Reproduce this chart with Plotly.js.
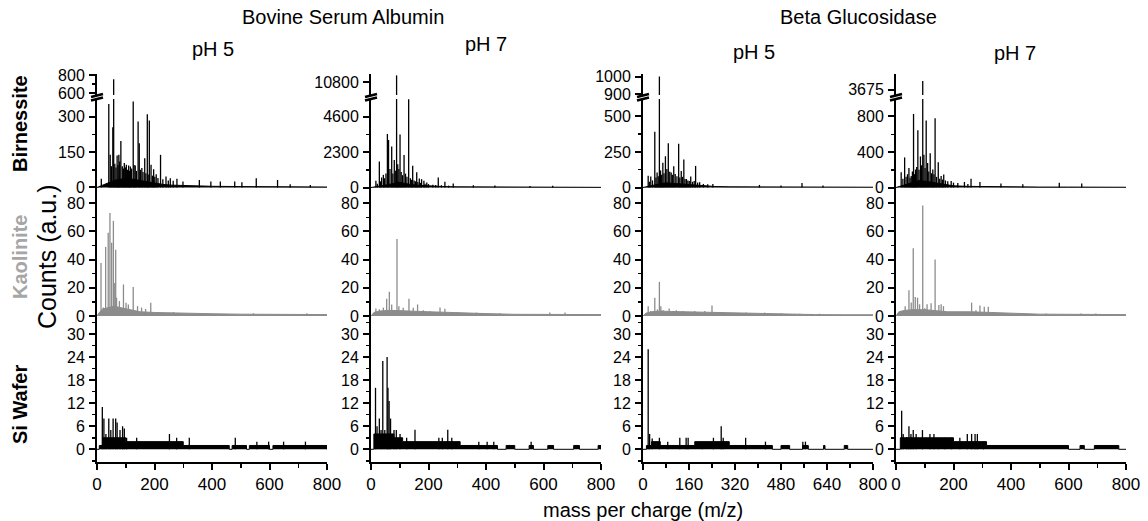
<!DOCTYPE html>
<html><head><meta charset="utf-8">
<script src="https://cdn.plot.ly/plotly-3.0.1.min.js"></script>
<style>html,body{margin:0;padding:0;background:#fff;} #chart{width:1148px;height:521px;}</style>
</head><body><div id="chart"></div>
<script>
// ---------------- data ----------------
const proteins = ['Bovine Serum Albumin', 'Beta Glucosidase'];
const phLabels = ['pH 5', 'pH 7', 'pH 5', 'pH 7'];
const rowLabels = ['Birnessite', 'Kaolinite', 'Si Wafer'];
const yTitle = 'Counts (a.u.)';
const xTitle = 'mass per charge (m/z)';

const mzTicks = [0, 200, 400, 600, 800];
const mzTicksBG5 = [0, 160, 320, 480, 640, 800];
const birLowerTicks = [[0, 150, 300], [0, 2300, 4600], [0, 250, 500], [0, 400, 800]];
const birUpperTicks = [[600, 800], [10800], [900, 1000], [3675]];
const kaoTicks = [0, 20, 40, 60, 80];
const siTicks = [0, 6, 12, 18, 24, 30];

// Birnessite, BSA pH 5
const bsa5BirMz  = [15, 41, 46, 50, 55, 58, 62, 66, 70, 73, 76, 79, 83, 88, 92, 95, 99, 102, 106, 110, 113, 116, 120, 126, 129, 133, 137, 143, 147, 151, 156, 160, 166, 170, 175, 178, 182, 188, 193, 197, 201, 206, 212, 221, 229, 240, 248, 255, 265, 278, 299, 356, 396, 429, 479, 504, 554, 628, 672, 742];
const bsa5BirInt = [37, 353, 138, 90, 255, 752, 100, 85, 135, 95, 138, 110, 197, 90, 80, 103, 85, 96, 75, 93, 70, 89, 80, 363, 95, 93, 70, 279, 187, 75, 82, 65, 124, 60, 310, 55, 283, 96, 50, 77, 45, 56, 40, 138, 35, 46, 30, 39, 28, 37, 25, 32, 25, 25, 25, 22, 39, 32, 14, 11];
const bsa5BirFloorMz = [0, 10, 20, 30, 40, 60, 80, 100, 120, 140, 160, 180, 200, 230, 260, 300, 350, 400, 500, 600, 700, 800];
const bsa5BirFloor   = [0, 5, 12, 18, 22, 30, 35, 38, 36, 32, 27, 22, 18, 13, 10, 8, 6, 5, 4, 3, 3, 2];

// Birnessite, BSA pH 7
const bsa7BirMz  = [17, 22, 29, 33, 37, 43, 47, 52, 57, 61, 66, 72, 76, 81, 86, 89, 93, 97, 101, 105, 110, 115, 120, 125, 131, 137, 141, 145, 150, 155, 159, 163, 168, 172, 176, 184, 188, 194, 200, 215, 225, 234, 245, 257, 270, 286, 356, 431, 553, 632];
const bsa7BirInt = [430, 250, 1690, 400, 650, 820, 600, 900, 3470, 3080, 1200, 2650, 900, 1780, 1085, 11300, 1500, 1200, 3430, 1000, 800, 2100, 900, 700, 5720, 600, 500, 1410, 450, 400, 980, 350, 590, 300, 540, 430, 250, 325, 220, 180, 160, 650, 150, 370, 120, 260, 150, 130, 90, 110];
const bsa7BirFloorMz = [0, 10, 20, 40, 60, 80, 90, 100, 120, 140, 160, 180, 200, 250, 300, 400, 500, 600, 700, 800];
const bsa7BirFloor   = [0, 25, 70, 130, 190, 270, 350, 330, 250, 190, 150, 120, 90, 60, 45, 30, 20, 15, 12, 10];

// Birnessite, BG pH 5
const bg5BirMz  = [18, 22, 27, 33, 41, 45, 49, 53, 57, 61, 65, 69, 73, 78, 83, 88, 93, 98, 102, 107, 112, 118, 124, 128, 133, 137, 142, 146, 151, 156, 161, 166, 172, 178, 183, 190, 197, 210, 225, 243, 405, 480, 553, 626];
const bg5BirInt = [83, 40, 78, 50, 393, 70, 105, 80, 1000, 120, 90, 175, 100, 220, 130, 312, 110, 105, 90, 150, 95, 80, 308, 70, 117, 75, 197, 60, 60, 50, 45, 78, 40, 45, 152, 35, 37, 25, 22, 25, 18, 14, 32, 14];
const bg5BirFloorMz = [0, 10, 20, 40, 60, 80, 100, 120, 140, 160, 180, 200, 250, 300, 400, 500, 600, 700, 800];
const bg5BirFloor   = [0, 3, 9, 18, 27, 33, 30, 27, 23, 18, 13, 10, 7, 5, 4, 3, 3, 2, 2];

// Birnessite, BG pH 7
const bg7BirMz  = [18, 24, 30, 35, 40, 45, 49, 53, 57, 61, 64, 68, 72, 76, 80, 85, 89, 93, 97, 101, 105, 110, 114, 119, 124, 128, 132, 136, 141, 147, 152, 157, 162, 166, 172, 180, 192, 200, 215, 238, 250, 261, 292, 365, 441, 568, 646];
const bg7BirInt = [173, 100, 339, 120, 150, 221, 110, 129, 180, 829, 150, 203, 230, 645, 200, 350, 250, 3795, 368, 220, 755, 276, 180, 387, 160, 203, 150, 780, 120, 284, 100, 129, 90, 147, 80, 70, 74, 55, 50, 63, 40, 99, 63, 44, 37, 55, 44];
const bg7BirFloorMz = [0, 10, 20, 40, 60, 80, 100, 120, 140, 160, 180, 200, 250, 300, 400, 500, 600, 700, 800];
const bg7BirFloor   = [0, 9, 24, 42, 60, 78, 72, 60, 48, 36, 27, 19, 13, 10, 7, 5, 5, 4, 3];

// Kaolinite, BSA pH 5
const bsa5KaoMz  = [14, 22, 30, 39, 45, 51, 57, 60, 65, 68, 78, 92, 101, 109, 126, 141, 155, 169, 187, 208, 266, 358, 544, 730];
const bsa5KaoInt = [37.6, 6, 49, 59, 73, 52, 67.5, 23.5, 47, 13, 10.6, 22.4, 9.4, 8.2, 20.5, 7, 6, 5, 9.4, 2.8, 2.8, 1.9, 1.9, 1.9];
const bsa5KaoFloorMz = [0, 10, 20, 40, 60, 80, 100, 120, 150, 200, 250, 300, 400, 500, 600, 700, 800];
const bsa5KaoFloor   = [0, 3, 5, 6, 7, 6, 5, 4, 3, 2.5, 2.2, 2, 1.6, 1.3, 1.2, 1.1, 1];

// Kaolinite, BSA pH 7
const bsa7KaoMz  = [17, 29, 43, 54.5, 63.8, 72, 90.4, 97, 112, 132, 147, 162, 182, 205, 240, 257, 298, 367, 448, 622, 675];
const bsa7KaoInt = [5.4, 4.7, 5.9, 12.2, 17.2, 8.2, 54.6, 7, 5.9, 12.2, 5.9, 8.2, 4, 3.5, 6.1, 5.2, 2.8, 2.4, 1.9, 2.4, 2.4];
const bsa7KaoFloorMz = [0, 10, 30, 60, 100, 150, 200, 250, 300, 400, 500, 600, 700, 800];
const bsa7KaoFloor   = [0, 2.5, 3.5, 4, 3.8, 3.2, 3, 2.7, 2.2, 1.7, 1.2, 1, 1, 1];

// Kaolinite, BG pH 5
const bg5KaoMz  = [9, 18, 27, 41, 50, 57, 62, 70, 91, 116, 139, 180, 215, 240, 278, 359, 423, 481, 545, 614];
const bg5KaoInt = [1.9, 7, 3.5, 13, 4.7, 24.2, 7, 4, 5.4, 4, 3.5, 3.5, 3.5, 7.5, 2.8, 2.4, 2.4, 1.9, 1.6, 1.6];
const bg5KaoFloorMz = [0, 10, 30, 60, 100, 150, 200, 250, 300, 400, 500, 600, 700, 800];
const bg5KaoFloor   = [0, 2, 3, 3.5, 3.2, 3, 2.8, 2.5, 2, 1.5, 1.1, 1, 0.9, 0.9];

// Kaolinite, BG pH 7
const bg7KaoMz  = [18, 24, 32, 45, 53, 60, 67, 75, 82, 93, 100, 108, 122, 136, 149, 157, 165, 186, 220, 263, 278, 292, 307, 321, 336, 406, 522, 643, 695];
const bg7KaoInt = [2.4, 3, 7, 18.3, 9.5, 48, 13.5, 13, 8.3, 78.4, 5.5, 8.3, 9, 40, 7.8, 8.3, 7, 2.4, 2.8, 9.5, 4, 7.4, 6.6, 6.6, 2.4, 1.7, 1.7, 1.7, 1.7];
const bg7KaoFloorMz = [0, 10, 30, 60, 100, 130, 180, 260, 330, 400, 500, 600, 700, 800];
const bg7KaoFloor   = [0, 3, 4, 4.5, 4.5, 4, 3, 3, 2.5, 1.7, 1.3, 1.2, 1.1, 1];

// Si Wafer, BSA pH 5
const bsa5SiMz  = [18.5, 24, 31, 41, 48, 56, 65, 70, 80, 89, 95, 103, 138, 252, 277, 321, 481, 556, 597, 649, 725];
const bsa5SiInt = [11, 8, 4, 8, 5, 8, 8, 7, 5, 6, 5.4, 3, 3, 4, 3, 3, 3, 2, 2, 2, 2];
const bsa5SiFloorMz = [0, 8, 20, 100, 300, 460, 470, 520, 530, 600, 612, 800];
const bsa5SiFloor   = [0, 1, 3, 2, 1, 0, 1, 0, 1, 0, 1, 0];

// Si Wafer, BSA pH 7
const bsa7SiMz  = [15.7, 21, 29, 35, 41, 48, 56, 59, 63, 68, 80, 88, 101, 124, 153, 236, 248, 267, 281, 375, 404, 427, 557];
const bsa7SiInt = [16, 6, 8, 5, 23, 5, 24, 16, 12.6, 8, 5, 5, 4, 3, 5.1, 3, 3, 5.1, 3, 2, 2, 2, 2];
const bsa7SiFloorMz = [0, 10, 80, 110, 310, 440, 470, 500, 550, 565, 615, 635, 705, 725, 790, 800];
const bsa7SiFloor   = [0, 4, 3, 2, 1, 0, 1, 0, 1, 0, 1, 0, 1, 0, 1, 0];

// Si Wafer, BG pH 5
const bg5SiMz  = [18, 23, 32, 57, 86, 128, 150, 157, 206, 245, 272, 279, 357, 426, 556, 565];
const bg5SiInt = [26, 4, 2.8, 3, 2, 3, 3, 3, 2, 3, 6, 3, 3, 2, 2, 2];
const bg5SiFloorMz = [0, 12, 30, 60, 180, 300, 450, 480, 510, 555, 575, 628, 633, 700, 712, 800];
const bg5SiFloor   = [0, 1, 2, 1, 2, 1, 0, 1, 0, 1, 0, 1, 0, 1, 0, 0];

// Si Wafer, BG pH 7
const bg7SiMz  = [19.7, 25, 37, 45, 52, 60, 70, 92, 118, 132, 147, 170, 193, 222, 248, 263, 275, 283, 304];
const bg7SiInt = [10, 4, 3.2, 6, 4, 5, 4, 5, 4, 4, 3, 3, 3, 3, 4, 4, 4, 4, 2];
const bg7SiFloorMz = [0, 15, 200, 315, 600, 640, 655, 690, 775, 800];
const bg7SiFloor   = [0, 3, 2, 1, 0, 1, 0, 1, 0, 0];

// ---------------- layout helpers ----------------
const W = 1148, H = 521;
const FONT = '"Liberation Sans", Arial, Helvetica, sans-serif';
const BLACK = '#000000', GRAY = '#8c8c8c', LABEL_GRAY = '#a6a6a6';
const TICK_SIZE = 16;
const colLeft = [97, 371, 643, 896], colW = 230;
const yd = (top, bot) => [1 - bot / H, 1 - top / H];
const D = { up: yd(74, 95), lo: yd(99, 190), kao: yd(190, 319), si: yd(319, 462) };
const birLowerRange = [[-10.6, 374], [-162, 5734], [-17.6, 623], [-28, 997]];
const birUpperRange = [[578, 811], [9900, 11400], [897, 1014], [3600, 3890]];
const kaoRange = [-2.13, 89.4], siRange = [-3.3, 33.9];

const panels = [
  [[bsa5BirMz, bsa5BirInt, bsa5BirFloorMz, bsa5BirFloor], [bsa7BirMz, bsa7BirInt, bsa7BirFloorMz, bsa7BirFloor],
   [bg5BirMz, bg5BirInt, bg5BirFloorMz, bg5BirFloor], [bg7BirMz, bg7BirInt, bg7BirFloorMz, bg7BirFloor]],
  [[bsa5KaoMz, bsa5KaoInt, bsa5KaoFloorMz, bsa5KaoFloor], [bsa7KaoMz, bsa7KaoInt, bsa7KaoFloorMz, bsa7KaoFloor],
   [bg5KaoMz, bg5KaoInt, bg5KaoFloorMz, bg5KaoFloor], [bg7KaoMz, bg7KaoInt, bg7KaoFloorMz, bg7KaoFloor]],
  [[bsa5SiMz, bsa5SiInt, bsa5SiFloorMz, bsa5SiFloor], [bsa7SiMz, bsa7SiInt, bsa7SiFloorMz, bsa7SiFloor],
   [bg5SiMz, bg5SiInt, bg5SiFloorMz, bg5SiFloor], [bg7SiMz, bg7SiInt, bg7SiFloorMz, bg7SiFloor]]
];

const xid = c => c === 0 ? 'x' : 'x' + (c + 1);
const xlay = c => c === 0 ? 'xaxis' : 'xaxis' + (c + 1);
const yid = k => k === 1 ? 'y' : 'y' + k;
const ylay = k => k === 1 ? 'yaxis' : 'yaxis' + k;

const layout = {
  width: W, height: H, margin: { l: 0, r: 0, t: 0, b: 0 },
  paper_bgcolor: '#ffffff', plot_bgcolor: 'rgba(0,0,0,0)', showlegend: false,
  font: { family: FONT, color: BLACK, size: TICK_SIZE },
  annotations: [], shapes: []
};

function yAxis(c, domain, range, tickvals, minorStep) {
  const a = {
    domain: domain, range: range, anchor: xid(c), tickmode: 'array', tickvals: tickvals,
    ticktext: tickvals.map(String), ticks: 'outside', ticklen: 6, tickwidth: 2, tickcolor: BLACK,
    showline: true, linewidth: 2, linecolor: BLACK, showgrid: false, zeroline: false,
    tickfont: { family: FONT, size: TICK_SIZE, color: BLACK }, fixedrange: true, ticklabelstandoff: 1
  };
  if (minorStep) a.minor = { tickmode: 'linear', tick0: 0, dtick: minorStep, ticks: 'outside', ticklen: 3.5, tickwidth: 1.5, tickcolor: BLACK, showgrid: false };
  return a;
}

const traces = [];
function sticks(mz, h) {
  const x = [], y = [];
  mz.forEach((m, i) => { x.push(m, m, null); y.push(0, h[i], null); });
  return { x, y };
}

for (let c = 0; c < 4; c++) {
  const xt = c === 2 ? mzTicksBG5 : mzTicks;
  layout[xlay(c)] = {
    domain: [colLeft[c] / W, (colLeft[c] + colW) / W], range: [0, 800], anchor: yid(c + 1),
    tickmode: 'array', tickvals: xt, ticktext: xt.map(String), ticks: 'outside', ticklen: 6, tickwidth: 2,
    tickcolor: BLACK, showline: true, linewidth: 2, linecolor: BLACK, showgrid: false, zeroline: false,
    tickfont: { family: FONT, size: 17, color: BLACK }, fixedrange: true,
    minor: { tickmode: 'linear', tick0: 0, dtick: (xt[1] - xt[0]) / 2, ticks: 'outside', ticklen: 3.5, tickwidth: 1.5, tickcolor: BLACK, showgrid: false }
  };
  layout[ylay(c + 1)] = yAxis(c, D.si, siRange, siTicks, 3);
  layout[ylay(c + 5)] = yAxis(c, D.kao, kaoRange, kaoTicks, 10);
  const lt = birLowerTicks[c];
  layout[ylay(c + 9)] = yAxis(c, D.lo, birLowerRange[c], lt, (lt[1] - lt[0]) / 2);
  layout[ylay(c + 13)] = yAxis(c, D.up, birUpperRange[c], birUpperTicks[c], c === 0 ? 100 : null);

  const rowsAx = [[c + 9, c + 13], [c + 5], [c + 1]];
  for (let r = 0; r < 3; r++) {
    const [mz, h, fmz, fv] = panels[r][c];
    const color = r === 1 ? GRAY : BLACK;
    traces.push({
      type: 'scatter', mode: 'lines', x: fmz, y: fv, fill: 'tozeroy', fillcolor: color,
      line: { color: color, width: 1, shape: r === 2 ? 'hv' : 'linear' },
      xaxis: xid(c), yaxis: yid(rowsAx[r][0]), hoverinfo: 'skip'
    });
    const s = sticks(mz, h);
    rowsAx[r].forEach(k => traces.push({
      type: 'scatter', mode: 'lines', x: s.x, y: s.y, connectgaps: false,
      line: { color: color, width: 1.3 }, xaxis: xid(c), yaxis: yid(k), hoverinfo: 'skip'
    }));
  }
  const L = colLeft[c];
  [95.5, 99].forEach(py => layout.shapes.push({
    type: 'line', xref: 'paper', yref: 'paper',
    x0: (L - 6) / W, x1: (L + 6) / W, y0: 1 - (py + 1.5) / H, y1: 1 - (py - 1.5) / H,
    line: { color: BLACK, width: 2.5 }
  }));
}

function ann(text, px, py, size, opts) {
  layout.annotations.push(Object.assign({
    text: text, x: px / W, y: 1 - py / H, xref: 'paper', yref: 'paper', showarrow: false,
    xanchor: 'center', yanchor: 'middle', font: { family: FONT, size: size, color: BLACK }
  }, opts || {}));
}
ann(proteins[0], 343, 17, 20);
ann(proteins[1], 858, 17, 20);
const phPos = [[213, 49], [486, 44], [754, 52], [1015, 53]];
phLabels.forEach((t, i) => ann(t, phPos[i][0], phPos[i][1], 20));
ann('<b>' + rowLabels[0] + '</b>', 20, 124, 20, { textangle: -90 });
ann('<b>' + rowLabels[1] + '</b>', 20, 257, 20, { textangle: -90, font: { family: FONT, size: 20, color: LABEL_GRAY } });
ann('<b>' + rowLabels[2] + '</b>', 20, 405, 20, { textangle: -90 });
ann(yTitle, 47, 256, 25, { textangle: -90 });
ann(xTitle, 643, 510, 20);

Plotly.newPlot('chart', traces, layout, { staticPlot: true, displayModeBar: false });
</script></body></html>
